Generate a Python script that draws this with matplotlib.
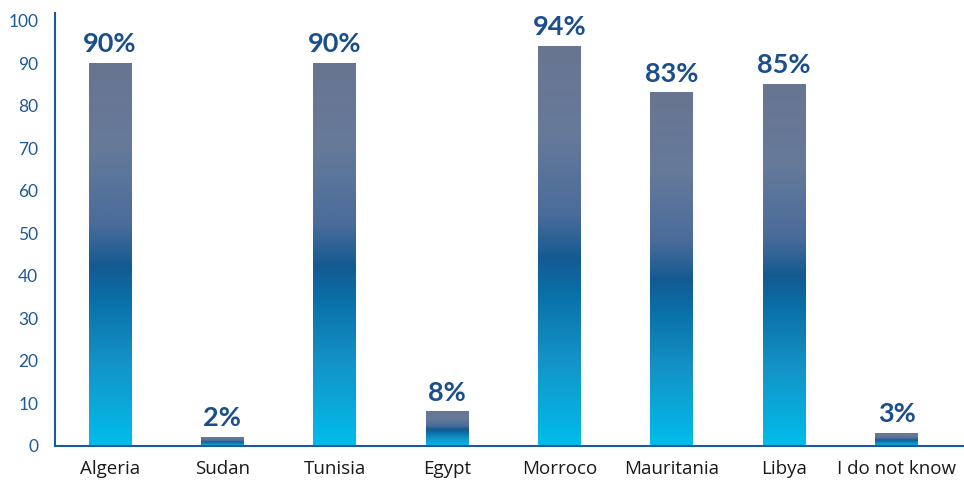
import numpy as np
import matplotlib.pyplot as plt
from matplotlib.colors import LinearSegmentedColormap

countries = ["Algeria", "Sudan", "Tunisia", "Egypt", "Morroco", "Mauritania", "Libya", "I do not know"]
shares = [90, 2, 90, 8, 94, 83, 85, 3]

# bottom -> top colour ramp used inside every bar
bar_cmap = LinearSegmentedColormap.from_list("bar_ramp", [
    (0.00, "#00bdeb"),
    (0.22, "#1492c6"),
    (0.38, "#0a70a8"),
    (0.47, "#145a92"),
    (0.58, "#4a6c9a"),
    (0.78, "#667a9a"),
    (1.00, "#687590"),
])

fig = plt.figure(figsize=(9.64, 4.8), dpi=100)
ax = fig.add_axes([0.057, 0.071, 0.943, 0.902])

x = np.arange(len(countries))
bars = ax.bar(x, shares, width=0.38, color="none")
grad = np.linspace(0, 1, 256).reshape(-1, 1)
for rect, val in zip(bars, shares):
    x0 = rect.get_x()
    ax.imshow(grad, cmap=bar_cmap, origin="lower", aspect="auto",
              extent=(x0, x0 + rect.get_width(), 0, val), zorder=2)
    ax.text(rect.get_x() + rect.get_width() / 2, val + 1.7, f"{val}%",
            ha="center", va="bottom", fontsize=19.5, fontweight="bold",
            color="#1b4f8c", family="Lato")

ax.set_xlim(-0.49, 7.6)
ax.set_ylim(0, 101.8)
ax.set_yticks(range(0, 101, 10))
ax.set_xticks(x)
ax.set_xticklabels(countries, fontsize=13.5, color="#1a1a1a", family="Open Sans")
ax.tick_params(axis="y", length=0, pad=12, labelsize=12.5, labelcolor="#1f5a96")
ax.tick_params(axis="x", length=0, pad=10)
for lbl in ax.get_yticklabels():
    lbl.set_family("Lato")

ax.spines[["top", "right"]].set_visible(False)
for side in ["left", "bottom"]:
    ax.spines[side].set_color("#1a5a9a")
    ax.spines[side].set_linewidth(1.5)

fig.savefig("out.png", dpi=100)
